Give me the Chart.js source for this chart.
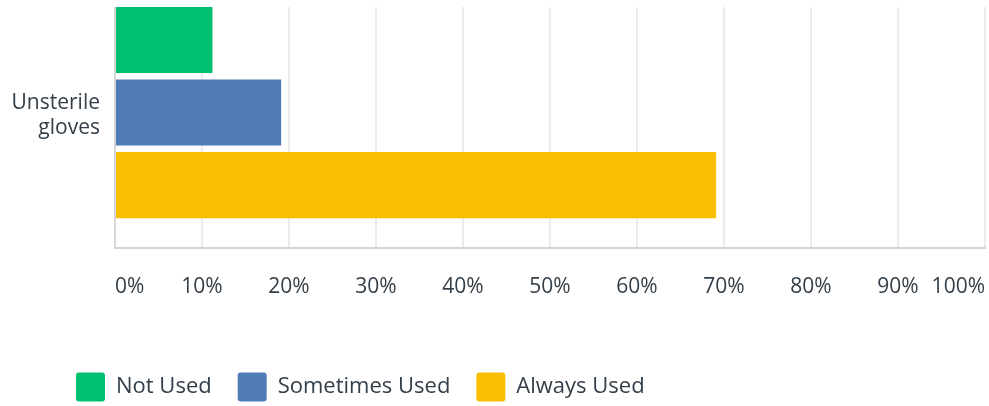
<!DOCTYPE html>
<html>
<head>
<meta charset="utf-8">
<script src="https://cdn.jsdelivr.net/npm/chart.js@4/dist/chart.umd.min.js"></script>
<style>
  html, body { margin:0; padding:0; background:#fff; width:989px; height:406px; overflow:hidden; }
  #wrap { position:absolute; left:0; top:7px; width:989px; height:399px; overflow:hidden; }
  #c { position:absolute; left:0; top:-30px; }
</style>
</head>
<body>
<div id="wrap"><canvas id="c" width="989" height="460"></canvas></div>
<script>
const categories = [["Unsterile", "gloves"]];
const seriesNames = ["Not Used", "Sometimes Used", "Always Used"];
const notUsed = [11.2];
const sometimesUsed = [19.1];
const alwaysUsed = [69.1];
const seriesColors = ["#00bf6f", "#507cb6", "#f9be00"];
const xTicks = [0, 10, 20, 30, 40, 50, 60, 70, 80, 90, 100];

const FONT = "'Open Sans', 'Noto Sans', sans-serif";
const TEXT = "#333e48";

const seriesValues = [notUsed, sometimesUsed, alwaysUsed];

// shift the legend's starting edge to sit under the y labels, like the original
const legendShift = {
  id: 'legendShift',
  afterLayout(chart) {
    const lg = chart.legend;
    if (lg) { lg.left += 50; lg.right += 50; }
  }
};

new Chart(document.getElementById('c'), {
  type: 'bar',
  data: {
    labels: categories,
    datasets: seriesNames.map((n, i) => ({
      label: n,
      data: seriesValues[i],
      backgroundColor: seriesColors[i],
      borderColor: seriesColors[i],
      borderWidth: 0,
      categoryPercentage: 0.804,
      barPercentage: 0.909
    }))
  },
  plugins: [legendShift],
  options: {
    indexAxis: 'y',
    responsive: false,
    animation: false,
    devicePixelRatio: 1,
    layout: { padding: { left: 0, right: 4, top: 0, bottom: 25.5 } },
    scales: {
      x: {
        min: 0, max: 100,
        afterBuildTicks: s => { s.ticks = xTicks.map(v => ({ value: v })); },
        afterFit: s => { s.height = 98.5; s.paddingLeft = 0; s.paddingRight = 0; },
        ticks: {
          align: 'inner',
          padding: 26,
          color: TEXT,
          font: { family: FONT, size: 21 },
          callback: v => v + '%'
        },
        grid: { color: '#ececec', lineWidth: 2, drawTicks: false },
        border: { color: '#d3d3d3', width: 2 }
      },
      y: {
        afterFit: s => { s.width = 115; s.paddingTop = 0; s.paddingBottom = 0; },
        ticks: {
          padding: 15,
          labelOffset: 3,
          color: TEXT,
          font: { family: FONT, size: 21, lineHeight: 1.15 }
        },
        grid: { display: false, drawTicks: false },
        border: { color: '#d8d8d8', width: 2 }
      }
    },
    plugins: {
      legend: {
        position: 'bottom',
        align: 'start',
        labels: {
          boxWidth: 29,
          boxHeight: 29,
          padding: 26,
          useBorderRadius: true,
          borderRadius: 3,
          color: TEXT,
          font: { family: FONT, size: 22 }
        }
      },
      tooltip: { enabled: false }
    }
  }
});
</script>
</body>
</html>
